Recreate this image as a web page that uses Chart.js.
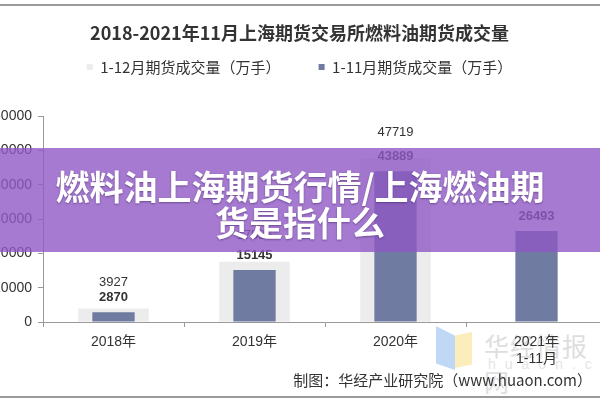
<!DOCTYPE html>
<html>
<head>
<meta charset="utf-8">
<script src="https://cdn.jsdelivr.net/npm/chart.js@4.4.0/dist/chart.umd.min.js"></script>
<style>
html, body { margin: 0; padding: 0; background: #fff; width: 600px; height: 400px; overflow: hidden; position: relative; }
#wrap { position: absolute; left: -12px; top: 0; width: 630px; height: 400px; }
.rule { position: absolute; left: 0; width: 600px; height: 2px; background: #9a9a9a; }
#banner { position: absolute; left: 0; top: 148px; width: 600px; height: 104px; background: rgba(142, 89, 196, 0.8);
  color: #fff; font: 700 34px "Noto Sans CJK SC", sans-serif; line-height: 36px; text-align: center;
  padding-top: 20px; box-sizing: border-box; text-shadow: 0 1px 2px rgba(60, 30, 90, 0.5); }
#footer { position: absolute; right: 8px; top: 369px; font: 15px "Noto Sans CJK SC", sans-serif; color: #333; }
#mark { position: absolute; left: 436px; top: 326px; width: 164px; height: 50px; opacity: 0.75; }
#mark .b { position: absolute; left: 0; top: 0; width: 19px; height: 44px; background: #a9cbf2; clip-path: polygon(0 0, 100% 22%, 100% 100%, 0 85%); }
#mark .y { position: absolute; left: 19px; top: 6px; width: 17px; height: 36px; background: #fbe9a6; clip-path: polygon(0 10%, 100% 0, 100% 90%, 0 100%); }
#mark .t { position: absolute; left: 48px; top: 1px; font: 25px "Noto Sans CJK SC", sans-serif; color: #d4d4d4; letter-spacing: 1px; }
#mark .u { position: absolute; left: 52px; top: 30px; font: 14px "Liberation Sans", sans-serif; color: #dcdcdc; letter-spacing: 9px; }
</style>
</head>
<body>
<div class="rule" style="top:4px"></div>
<div id="mark"><div class="b"></div><div class="y"></div><div class="t">华经情报网</div><div class="u">huaon.com</div></div>
<div id="wrap"><canvas id="chart"></canvas></div>
<div id="banner">燃料油上海期货行情/上海燃油期<br>货是指什么</div>
<div id="footer">制图：华经产业研究院（www.huaon.com）</div>
<div class="rule" style="top:396px"></div>
<script>
const chartTitle = '2018-2021年11月上海期货交易所燃料油期货成交量';
const years = [['2018年'], ['2019年'], ['2020年'], ['2021年', '1-11月']];
const seriesNames = ['1-12月期货成交量（万手）', '1-11月期货成交量（万手）'];
const volumeFullYear = [3927, 17536, 47719, null];
const volumeJanNov = [2870, 15145, 43889, 26493];
const yTicks = [0, 10000, 20000, 30000, 40000, 50000, 60000];

const numFont = '"Liberation Sans", "Noto Sans CJK SC", sans-serif';

// value labels, the full-year one stacked above the Jan-Nov one
const valueLabels = {
    id: 'valueLabels',
    afterDatasetsDraw(chart) {
        const ctx = chart.ctx;
        const light = chart.getDatasetMeta(0).data;
        const dark = chart.getDatasetMeta(1).data;
        ctx.save();
        ctx.textAlign = 'center';
        ctx.textBaseline = 'middle';
        ctx.fillStyle = '#333';
        years.forEach((y, i) => {
            let darkY = null;
            if (volumeJanNov[i] != null) {
                darkY = dark[i].y - 15;
                ctx.font = 'bold 13px ' + numFont;
                ctx.fillText(String(volumeJanNov[i]), dark[i].x, darkY);
            }
            if (volumeFullYear[i] != null) {
                let ly = light[i].y - 26;
                if (darkY !== null) ly = Math.min(ly, darkY - 15);
                ctx.font = '13px ' + numFont;
                ctx.fillText(String(volumeFullYear[i]), light[i].x, ly);
            }
        });
        ctx.restore();
    }
};

new Chart(document.getElementById('chart'), {
    type: 'bar',
    data: {
        labels: years,
        datasets: [{
            label: seriesNames[0],
            data: volumeFullYear,
            backgroundColor: '#ececec',
            barPercentage: 0.5,
            categoryPercentage: 1,
            grouped: false,
            order: 1
        }, {
            label: seriesNames[1],
            data: volumeJanNov,
            backgroundColor: '#6f7ba0',
            barPercentage: 0.3,
            categoryPercentage: 1,
            grouped: false,
            order: 0
        }]
    },
    options: {
        responsive: true,
        maintainAspectRatio: false,
        animation: false,
        layout: { padding: { top: 0, right: 11, left: 4, bottom: 0 } },
        plugins: {
            title: {
                display: true,
                text: chartTitle,
                color: '#333',
                font: { size: 18, weight: 'bold', family: '"Noto Sans CJK SC", sans-serif' },
                padding: { top: 22.2, bottom: 0 }
            },
            // empty box under the legend, keeps the plot where the original has it
            subtitle: {
                display: true,
                text: ' ',
                weight: 500,
                font: { size: 10 },
                padding: { top: 19.5, bottom: 0 }
            },
            tooltip: { enabled: false },
            legend: {
                display: true,
                labels: {
                    boxWidth: 6,
                    boxHeight: 6,
                    padding: 15.7,
                    color: '#333',
                    font: { size: 15, family: '"Noto Sans CJK SC", sans-serif' },
                    sort: (a, b) => a.datasetIndex - b.datasetIndex,
                    generateLabels: chart => {
                        const items = Chart.defaults.plugins.legend.labels.generateLabels(chart);
                        items.forEach(it => { if (it.datasetIndex === 0) it.text += '\u3000\u3000'; });
                        return items;
                    }
                }
            }
        },
        scales: {
            x: {
                afterFit: s => { s.height = 78; },
                grid: { drawOnChartArea: false, tickLength: 5, color: '#999' },
                border: { color: '#999' },
                ticks: { color: '#333', padding: 7, font: { size: 14, family: numFont } }
            },
            y: {
                min: 0,
                max: 60000,
                afterFit: s => { s.width = 51; },
                afterBuildTicks: s => { s.ticks = yTicks.map(v => ({ value: v })); },
                grid: { drawOnChartArea: false, tickLength: 5, color: '#999' },
                border: { color: '#999' },
                ticks: { color: '#333', padding: 6, font: { size: 14, family: numFont }, callback: v => String(v) }
            }
        }
    },
    plugins: [valueLabels]
});
</script>
</body>
</html>
